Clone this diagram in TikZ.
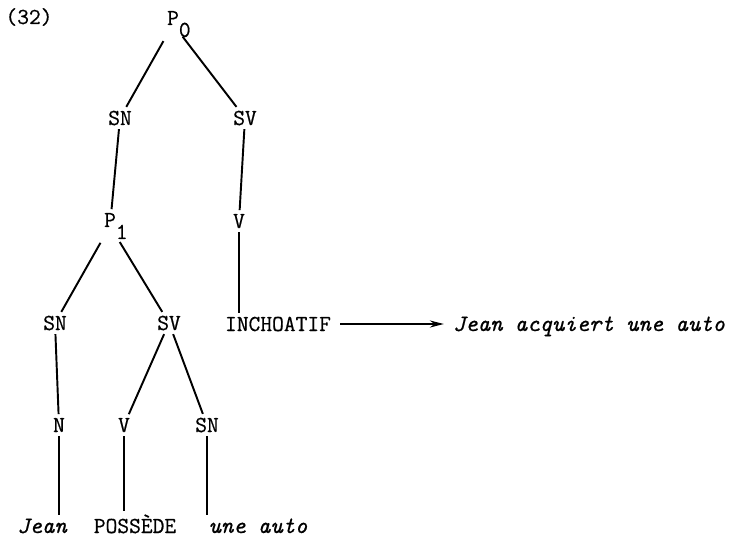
\documentclass[tikz,border=0pt]{standalone}
\usepackage{fontspec}
\usetikzlibrary{arrows.meta}
\newfontfamily\typefont[FakeBold=0.6]{Latin Modern Mono}
\tikzset{
    catLabel/.style={font=\fontsize{13}{14}\typefont, inner sep=2pt, anchor=base},
    wordLabel/.style={font=\fontsize{13.4}{14}\typefont\itshape, inner sep=2pt, anchor=base},
    branch/.style={line width=1.1pt},
    arrow/.style={line width=1.1pt, ->, >={Stealth[length=8pt, width=4pt]}, shorten <=3pt, shorten >=3pt}
}
\newcommand{\subidx}[1]{\rlap{\raisebox{-6.8pt}{#1}}}

\begin{document}
\begin{tikzpicture}[x=0.02cm, y=-0.02cm]
    \useasboundingbox (0,0) rectangle (732,540);

    \node (num) [catLabel] at (29,24) {(32)};
    \node (p0) [catLabel] at (173,25) {P\subidx{0}};
    \node (sn1) [catLabel] at (120,125) {SN};
    \node (sv1) [catLabel] at (245,125) {SV};
    \node (p1) [catLabel] at (110,227) {P\subidx{1}};
    \node (v1) [catLabel] at (239,228) {V};
    \node (sn2) [catLabel] at (55,330) {SN};
    \node (sv2) [catLabel] at (169,330) {SV};
    \node (inch) [catLabel] at (278,331) {INCHOATIF};
    \node (res) [wordLabel] at (589,331) {Jean acquiert une auto};
    \node (n) [catLabel] at (59,432) {N};
    \node (v2) [catLabel] at (124,432) {V};
    \node (sn3) [catLabel] at (207,432) {SN};
    \node (jean) [wordLabel] at (42,533) {Jean};
    \node (poss) [catLabel] at (135,533) {POSS\`EDE};
    \node (auto) [wordLabel] at (258,533) {une auto};

    \draw [branch] (p0) -- (sn1);
    \draw [branch] (p0) -- (sv1);
    \draw [branch] (sn1) -- (p1);
    \draw [branch] (sv1) -- (v1);
    \draw [branch] (v1) -- (v1 |- inch.north);
    \draw [branch] (p1) -- (sn2);
    \draw [branch] (p1) -- (sv2);
    \draw [branch] (sn2) -- (n);
    \draw [branch] (sv2) -- (v2);
    \draw [branch] (sv2) -- (sn3);
    \draw [branch] (n) -- (n |- jean.north);
    \draw [branch] (v2) -- (v2 |- poss.north);
    \draw [branch] (sn3) -- (sn3 |- auto.north);
    \draw [arrow] (inch.east) -- (inch.east -| res.west);

\end{tikzpicture}
\end{document}
